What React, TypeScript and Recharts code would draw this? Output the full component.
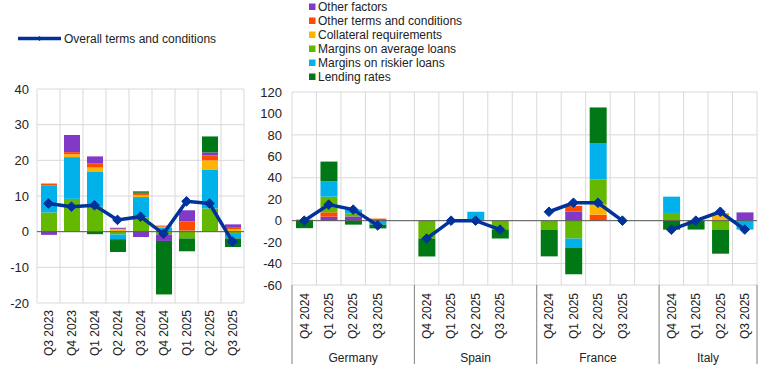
import React from 'react';
import { ComposedChart, Bar, Line, XAxis, YAxis, CartesianGrid, ReferenceLine } from 'recharts';

const FONT = '"Liberation Sans", Arial, sans-serif';

const COLORS = {
  otherFactors: '#8139C7',
  otherTerms: '#FF4B00',
  collateral: '#FFB400',
  marginsAvg: '#65B800',
  marginsRisk: '#00B1EA',
  lending: '#007816',
  overall: '#003299',
};

const LABELS = {
  otherFactors: 'Other factors',
  otherTerms: 'Other terms and conditions',
  collateral: 'Collateral requirements',
  marginsAvg: 'Margins on average loans',
  marginsRisk: 'Margins on riskier loans',
  lending: 'Lending rates',
  overall: 'Overall terms and conditions',
};

// ---------- Left chart (euro area) ----------
const leftQuarters = ['Q3 2023', 'Q4 2023', 'Q1 2024', 'Q2 2024', 'Q3 2024', 'Q4 2024', 'Q1 2025', 'Q2 2025', 'Q3 2025'];
const leftMarginsAvg = [5.4, 9.2, 7.0, -0.8, 3.9, -0.8, -1.9, 6.5, -0.4];
const leftMarginsRisk = [7.6, 11.7, 9.9, -1.3, 5.8, 1.2, 0.3, 10.8, -1.5];
const leftCollateral = [0, 0.8, 1.1, 0.8, 0.6, 0.2, 0, 2.7, 0.65];
const leftOtherTerms = [0.5, 0.6, 1.2, 0, 0.6, 0.3, 2.6, 1.4, 0.65];
const leftOtherFactors = [-0.9, 4.8, 1.9, 0.3, -1.5, -1.8, 3.1, 0.8, 0.75];
const leftLending = [0, 0, -0.7, -3.6, 0.4, -15.0, -3.6, 4.5, -2.4];
const leftOverall = [7.9, 7.0, 7.4, 3.3, 4.2, -0.6, 8.5, 7.9, -2.8];
const leftTicks = [-20, -10, 0, 10, 20, 30, 40];

const leftData = leftQuarters.map((q, i) => ({
  q,
  marginsAvg: leftMarginsAvg[i],
  marginsRisk: leftMarginsRisk[i],
  collateral: leftCollateral[i],
  otherTerms: leftOtherTerms[i],
  otherFactors: leftOtherFactors[i],
  lending: leftLending[i],
  overall: leftOverall[i],
}));

// ---------- Right chart (countries) ----------
const countries = ['Germany', 'Spain', 'France', 'Italy'];
const rightQuarters = ['Q4 2024', 'Q1 2025', 'Q2 2025', 'Q3 2025'];
const rightOtherFactors = [[0, 3.7, 4.0, 0], [0, 0, 0, 0], [0, 8.3, 0, 0], [0, 0, 0, 7.7]];
const rightOtherTerms = [[1.0, 4.1, 0, 1.9], [0, 0, 0, 0], [0, 5.6, 5.6, 0], [0, 0, 0, 0]];
const rightCollateral = [[0, 0, 0, 0], [0, 0, 0, 0], [0, 0, 9.4, 0], [0, 0, 7.2, 0]];
const rightMarginsAvg = [[0, 14.6, 2.5, 0], [-16.7, 0, 0, -8.3], [-8.3, -16.7, 23.6, 0], [7.2, 0, -8.3, 0]];
const rightMarginsRisk = [[0, 14.4, 3.8, -3.7], [0, 0, 8.3, 0], [0, -8.3, 33.4, 0], [15.2, 0, 0, -8.3]];
const rightLending = [[-7.0, 18.3, -3.7, -3.5], [-16.7, 0, 0, -8.3], [-25.0, -25.0, 33.6, 0], [-8.4, -8.3, -22.5, 0]];
const rightOverall = [[0, 15.0, 10.3, -4.4], [-16.7, 0, 0, -8.3], [8.3, 16.7, 16.7, 0], [-8.4, 0, 8.3, -8.3]];
const rightTicks = [-60, -40, -20, 0, 20, 40, 60, 80, 100, 120];

type Row = { [k: string]: any };
const rightData: Row[] = [];
countries.forEach((c, ci) => {
  rightQuarters.forEach((q, qi) => {
    rightData.push({
      key: `${c}|${q}`,
      label: q,
      country: c,
      qi,
      otherFactors: rightOtherFactors[ci][qi],
      otherTerms: rightOtherTerms[ci][qi],
      collateral: rightCollateral[ci][qi],
      marginsAvg: rightMarginsAvg[ci][qi],
      marginsRisk: rightMarginsRisk[ci][qi],
      lending: rightLending[ci][qi],
      overall: rightOverall[ci][qi],
    });
  });
  if (ci < countries.length - 1) {
    rightData.push({ key: `${c}|gap`, label: '', country: c, qi: -1, overall: null });
  }
});

// ---------- layout ----------
const L = { left: 0, top: 0, width: 250, height: 370, mTop: 89, mRight: 6, mBottom: 67, yw: 37 };
const R = { left: 250, top: 0, width: 523, height: 370, mTop: 92, mRight: 16, mBottom: 85, yw: 42 };
const rPlotW = R.width - R.yw - R.mRight;
const rSlot = rPlotW / rightData.length;

const Diamond = (props: any) => {
  const { cx, cy, index } = props;
  if (cx == null || cy == null || isNaN(cy)) return <g key={`d${index}`} />;
  const r = 4.8;
  return (
    <path
      key={`d${index}`}
      d={`M${cx},${cy - r}L${cx + r},${cy}L${cx},${cy + r}L${cx - r},${cy}Z`}
      fill={COLORS.overall}
      stroke={COLORS.overall}
      strokeWidth={1}
    />
  );
};

const LeftTick = (props: any) => {
  const { x, y, payload } = props;
  return (
    <text
      x={x}
      y={y + 7}
      transform={`rotate(-90 ${x} ${y + 7})`}
      textAnchor="end"
      dy="0.36em"
      fontSize={12}
      fontFamily={FONT}
      fill="#222"
    >
      {payload.value}
    </text>
  );
};

const RightTick = (props: any) => {
  const { x, y, payload, index } = props;
  const row = rightData[index] || {};
  const label = row.label || '';
  const elems: any[] = [];
  if (label) {
    elems.push(
      <text
        key="t"
        x={x}
        y={y + 8}
        transform={`rotate(-90 ${x} ${y + 8})`}
        textAnchor="end"
        dy="0.36em"
        fontSize={12}
        fontFamily={FONT}
        fill="#222"
      >
        {label}
      </text>
    );
  }
  if (row.qi === 0) {
    const left = x - rSlot / 2;
    const isLast = row.country === countries[countries.length - 1];
    const groupW = rSlot * (isLast ? 4 : 5);
    elems.push(<line key="s" x1={left} x2={left} y1={y} y2={y + 79} stroke="#7f7f7f" strokeWidth={1} />);
    elems.push(
      <text key="g" x={left + groupW / 2} y={y + 77} textAnchor="middle" fontSize={12} fontFamily={FONT} fill="#222">
        {row.country}
      </text>
    );
    if (isLast) {
      elems.push(
        <line key="e" x1={left + groupW} x2={left + groupW} y1={y} y2={y + 79} stroke="#7f7f7f" strokeWidth={1} />
      );
    }
  }
  return <g>{elems}</g>;
};

const vGen = (n: number) => (p: any) => {
  const off = p.offset;
  const arr: number[] = [];
  for (let i = 0; i <= n; i++) arr.push(off.left + (off.width * i) / n);
  return arr;
};

const leftOrder = ['marginsAvg', 'marginsRisk', 'collateral', 'otherTerms', 'otherFactors', 'lending'];
const rightOrder = ['otherFactors', 'otherTerms', 'collateral', 'marginsAvg', 'marginsRisk', 'lending'];
const legendOrder = ['otherFactors', 'otherTerms', 'collateral', 'marginsAvg', 'marginsRisk', 'lending'];

export default function App() {
  return (
    <div style={{ position: 'absolute', left: 0, top: 0, width: 773, height: 370, background: '#fff', fontFamily: FONT }}>
      {/* line legend */}
      <svg style={{ position: 'absolute', left: 0, top: 0 }} width={773} height={90}>
        <line x1={18} x2={61} y1={38.5} y2={38.5} stroke={COLORS.overall} strokeWidth={3.5} />
        <path d="M39.5,36L42,38.5L39.5,41L37,38.5Z" fill={COLORS.overall} />
        <text x={64} y={38.5} dy="0.35em" fontSize={12} fontFamily={FONT} fill="#222">
          {LABELS.overall}
        </text>
        {legendOrder.map((k, i) => (
          <g key={k}>
            <rect x={309} y={3.5 + i * 14} width={6.5} height={6.5} fill={(COLORS as any)[k]} />
            <text x={318} y={7 + i * 14} dy="0.35em" fontSize={12} fontFamily={FONT} fill="#222">
              {(LABELS as any)[k]}
            </text>
          </g>
        ))}
      </svg>

      <div style={{ position: 'absolute', left: L.left, top: L.top }}>
        <ComposedChart
          width={L.width}
          height={L.height}
          data={leftData}
          stackOffset="sign"
          barSize={16}
          margin={{ top: L.mTop, right: L.mRight, bottom: 0, left: 0 }}
        >
          <CartesianGrid stroke="#d9d9d9" verticalCoordinatesGenerator={vGen(leftData.length)} />
          <XAxis
            dataKey="q"
            interval={0}
            axisLine={false}
            tickLine={false}
            tickSize={0}
            tickMargin={0}
            height={L.mBottom}
            tick={<LeftTick />}
          />
          <YAxis
            domain={[-20, 40]}
            ticks={leftTicks}
            width={L.yw}
            axisLine={false}
            tickLine={false}
            tick={{ fontSize: 13, fill: '#222', fontFamily: FONT }}
          />
          <ReferenceLine y={0} stroke="#595959" strokeWidth={1} />
          {leftOrder.map((k) => (
            <Bar key={k} dataKey={k} stackId="a" fill={(COLORS as any)[k]} isAnimationActive={false} />
          ))}
          <Line
            dataKey="overall"
            stroke={COLORS.overall}
            strokeWidth={3.5}
            dot={<Diamond />}
            activeDot={false}
            isAnimationActive={false}
          />
        </ComposedChart>
      </div>

      <div style={{ position: 'absolute', left: R.left, top: R.top }}>
        <ComposedChart
          width={R.width}
          height={R.height}
          data={rightData}
          stackOffset="sign"
          barSize={17}
          margin={{ top: R.mTop, right: R.mRight, bottom: 0, left: 0 }}
        >
          <CartesianGrid stroke="#d9d9d9" verticalCoordinatesGenerator={vGen(rightData.length)} />
          <XAxis
            dataKey="key"
            interval={0}
            axisLine={false}
            tickLine={false}
            tickSize={0}
            tickMargin={0}
            height={R.mBottom}
            tick={<RightTick />}
          />
          <YAxis
            domain={[-60, 120]}
            ticks={rightTicks}
            width={R.yw}
            axisLine={false}
            tickLine={false}
            tickMargin={4}
            tick={{ fontSize: 13, fill: '#222', fontFamily: FONT }}
          />
          <ReferenceLine y={0} stroke="#595959" strokeWidth={1} />
          {rightOrder.map((k) => (
            <Bar key={k} dataKey={k} stackId="a" fill={(COLORS as any)[k]} isAnimationActive={false} />
          ))}
          <Line
            dataKey="overall"
            stroke={COLORS.overall}
            strokeWidth={3.5}
            dot={<Diamond />}
            activeDot={false}
            connectNulls={false}
            isAnimationActive={false}
          />
        </ComposedChart>
      </div>
    </div>
  );
}
